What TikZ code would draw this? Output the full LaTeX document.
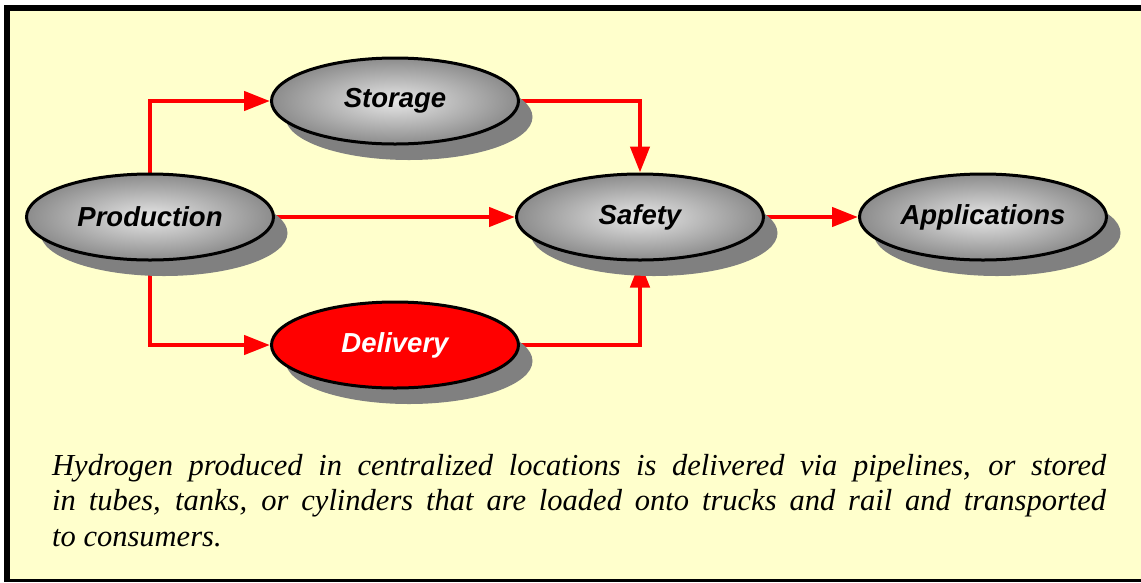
\documentclass[tikz,border=0pt]{standalone}
\usepackage{fontspec}
\setmainfont{Liberation Serif}
\setsansfont{Liberation Sans}
\usetikzlibrary{shapes.geometric,arrows.meta,shadows,backgrounds}
\definecolor{bgyellow}{HTML}{FFFFCC}
\definecolor{shadowgray}{HTML}{808080}
\definecolor{edgegray}{HTML}{8C8C8C}
\definecolor{centergray}{HTML}{E6E6E6}
\begin{document}
\begin{tikzpicture}[x=1pt,y=-1pt,
  stage/.style={ellipse, draw=black, line width=3pt, minimum width=247pt, minimum height=86pt, inner sep=0pt,
    font=\sffamily\bfseries\itshape\fontsize{27.5}{30}\selectfont,
    drop shadow={shadow xshift=14pt, shadow yshift=-16pt, fill=shadowgray, opacity=1, draw=none}},
  grayfill/.style={inner color=centergray, outer color=edgegray},
  redfill/.style={fill=red, text=white},
  flow/.style={draw=red, line width=4.5pt, -{Triangle[length=26pt,width=19pt]}}
]
\useasboundingbox (0,0) rectangle (1141,582);

\node[stage, grayfill] (prod) at (150,217) {Production};
\node[stage, grayfill] (stor) at (395,101) {Storage};
\node[stage, grayfill] (safe) at (640,217) {Safety};
\node[stage, grayfill] (appl) at (983,217) {Applications};
\node[stage, redfill] (deli) at (395,345) {Delivery};

\begin{scope}[on background layer]
\fill[white] (0,0) rectangle (1141,582);
\fill[bgyellow] (7,8) rectangle (1141,580);
\draw[line width=6pt] (7,5) -- (7,582);
\draw[line width=6pt] (4,8) -- (1141,8);
\draw[line width=2.5pt] (4,580.5) -- (1141,580.5);
\coordinate (c1) at (prod.center |- stor.west);
\coordinate (c2) at (safe.north |- stor.east);
\coordinate (c3) at (prod.center |- deli.west);
\coordinate (c4) at (safe.south |- deli.east);
\draw[flow, line join=miter] (prod.center) -- (c1) -- (stor.west);
\draw[flow, line join=miter] (stor.center) -- (c2) -- (safe.north);
\draw[flow] (prod.center) -- (safe.west);
\draw[flow, line join=miter] (prod.center) -- (c3) -- (deli.west);
\draw[flow, line join=miter] (deli.center) -- (c4) -- (safe.south);
\draw[flow] (safe.center) -- (appl.west);
\end{scope}

\node[anchor=base west, inner sep=0pt, text width=1054pt, align=justify,
  font=\itshape\fontsize{30.5}{35.5}\selectfont] (cap) at (52,475)
  {Hydrogen produced in centralized locations is delivered via pipelines, or stored\linebreak
   in tubes, tanks, or cylinders that are loaded onto trucks and rail and transported\linebreak
   to consumers.};
\end{tikzpicture}
\end{document}
